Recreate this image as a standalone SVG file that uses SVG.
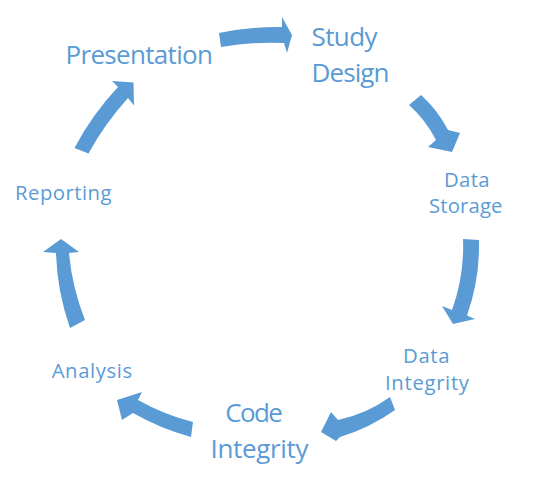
<svg xmlns="http://www.w3.org/2000/svg" width="537" height="481" viewBox="0 0 537 481">
  <style>
    .lbl { font-family: "Open Sans", "Noto Sans", "Liberation Sans", sans-serif; fill: #5B9BD5; }
    .big { font-size: 26px; }
    .small { font-size: 20.3px; }
    .arrow { fill: #5B9BD5; stroke: none; }
  </style>
  <rect width="537" height="481" fill="#FFFFFF"/>
  <g id="connectors">
    <path class="arrow" d="M 219,33 Q 250,26.5 282,27 L 282,17 L 292,35 L 287,53 L 284,43 Q 252,41.5 221,47 Z"/>
    <path class="arrow" d="M 421,95 Q 437.7,110 448,130 L 460,133 L 452,152 L 428,147 L 436,140 Q 425.7,120 409,105 Z"/>
    <path class="arrow" d="M 479,240 Q 480,279 467,315.5 L 475,319 L 453,324 L 442,306 L 452,310 Q 464.5,275.5 463,239 Z"/>
    <path class="arrow" d="M 395,410 Q 369.7,428 340,437 L 336,441 L 321,432 L 331,412 L 338,420 Q 366.4,414 390,397 Z"/>
    <path class="arrow" d="M 193,422 Q 164,414.7 138,400 L 142,392 L 117,400 L 122,420 L 133,413 Q 160.5,428.7 191,437 Z"/>
    <path class="arrow" d="M 85,320 Q 72,287 69,253 L 79,252 L 61,239 L 43,252 L 56,253 Q 57,291 70,328 Z"/>
    <path class="arrow" d="M 74.5,148 Q 92,114.6 118,87 L 112,81 L 133.5,82.5 L 134,105.5 L 128,98 Q 104.8,123.7 88.5,153.5 Z"/>
  </g>
  <g id="node-presentation">
    <text class="lbl big" x="65.5" y="64" textLength="147.5">Presentation</text>
  </g>
  <g id="node-study-design">
    <text class="lbl big" x="311.5" y="46" textLength="66">Study</text>
    <text class="lbl big" x="311.5" y="81.7" textLength="78">Design</text>
  </g>
  <g id="node-data-storage">
    <text class="lbl small" x="444" y="186.7" textLength="45.5">Data</text>
    <text class="lbl small" x="429" y="212.7" textLength="73.5">Storage</text>
  </g>
  <g id="node-data-integrity">
    <text class="lbl small" x="403" y="362.7" textLength="46.5">Data</text>
    <text class="lbl small" x="385" y="390" textLength="84">Integrity</text>
  </g>
  <g id="node-code-integrity">
    <text class="lbl big" x="225.3" y="422.3" textLength="57.5">Code</text>
    <text class="lbl big" x="210.5" y="458.3" textLength="98">Integrity</text>
  </g>
  <g id="node-analysis">
    <text class="lbl small" x="51.7" y="377.7" textLength="80.5">Analysis</text>
  </g>
  <g id="node-reporting">
    <text class="lbl small" x="15" y="200" textLength="96.5">Reporting</text>
  </g>
</svg>
